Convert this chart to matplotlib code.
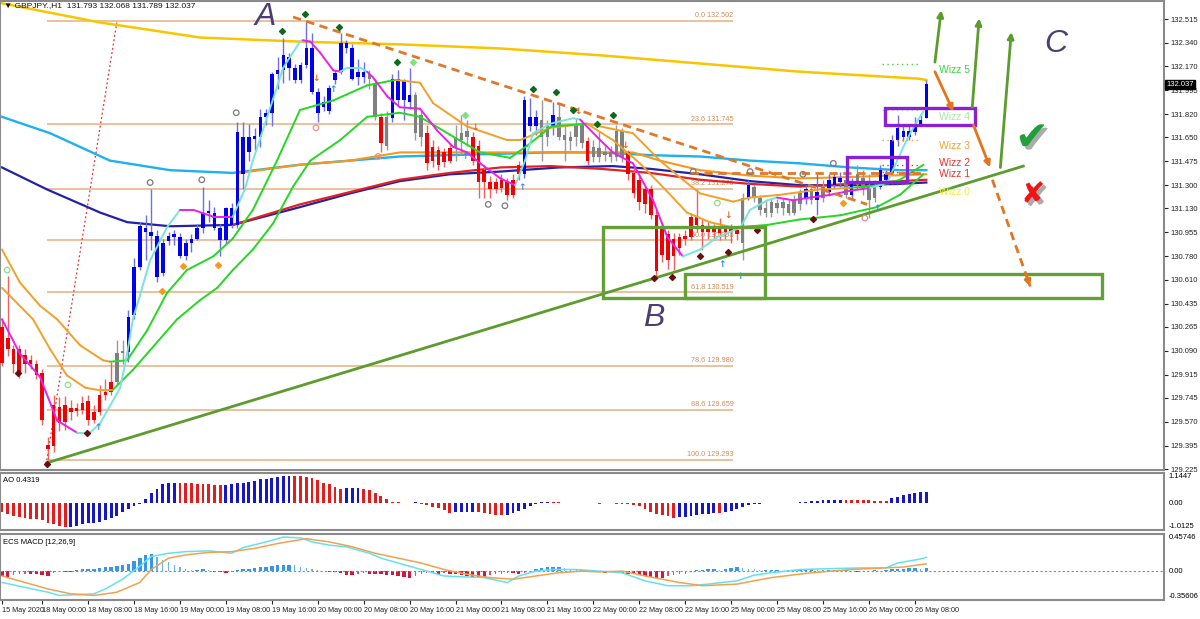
import numpy as np
import matplotlib.pyplot as plt
import matplotlib.transforms as mtransforms
import matplotlib.patheffects as pe
from matplotlib.collections import LineCollection
from matplotlib.patches import Rectangle

# GBPJPY H1 bars, 15 May 17:00 .. 26 May 09:00
opens = [130.26, 130.18, 130.10, 130.10, 130.06, 130.02, 129.99, 129.93, 129.40, 129.69,
         129.68, 129.69, 129.67, 129.67, 129.71, 129.72, 129.64, 129.77, 129.79, 129.86,
         130.07, 130.09, 130.08, 130.35, 130.70, 130.96, 130.93, 130.63, 130.66, 130.89,
         130.92, 130.78, 130.78, 130.88, 130.91, 130.99, 131.10, 130.99, 130.90, 130.90,
         131.01, 131.01, 131.38, 131.54, 131.64, 131.65, 131.80, 131.83, 132.11, 132.14,
         132.24, 132.16, 132.07, 132.18, 132.30, 131.98, 131.87, 131.84, 132.07, 132.13,
         132.34, 132.30, 132.09, 132.13, 132.11, 132.05, 131.80, 131.80, 131.79, 132.08,
         131.92, 131.91, 131.96, 131.81, 131.68, 131.58, 131.56, 131.54, 131.57, 131.65,
         131.68, 131.70, 131.65, 131.59, 131.41, 131.32, 131.32, 131.34, 131.32, 131.34,
         131.45, 131.38, 131.73, 131.73, 131.78, 131.73, 131.72, 131.80, 131.67, 131.65,
         131.74, 131.74, 131.62, 131.58, 131.57, 131.54, 131.54, 131.51, 131.70, 131.54,
         131.39, 131.34, 131.27, 131.27, 131.08, 130.99, 130.94, 130.91, 130.92, 130.93,
         130.92, 131.07, 131.01, 130.99, 130.96, 130.99, 130.96, 130.99, 130.97, 130.88,
         131.21, 131.29, 131.21, 131.13, 131.10, 131.17, 131.13, 131.16, 131.10, 131.16,
         131.21, 131.27, 131.19, 131.29, 131.25, 131.30, 131.32, 131.34, 131.23, 131.38,
         131.35, 131.30, 131.21, 131.29, 131.34, 131.39, 131.63, 131.65, 131.65, 131.69,
         131.75, 131.793]
highs = [130.33, 130.64, 130.13, 130.13, 130.10, 130.06, 130.02, 129.96, 129.46, 129.77,
         129.75, 129.76, 129.73, 129.71, 129.76, 129.77, 129.69, 129.84, 129.88, 130.01,
         130.17, 130.17, 130.39, 130.77, 131.03, 131.08, 131.27, 130.97, 130.91, 130.96,
         130.97, 130.95, 130.91, 130.94, 131.02, 131.29, 131.19, 131.14, 131.02, 131.14,
         131.17, 131.76, 131.76, 131.75, 131.72, 131.86, 131.86, 132.13, 132.24, 132.38,
         132.27, 132.19, 132.20, 132.50, 132.41, 132.01, 131.95, 132.03, 132.14, 132.41,
         132.36, 132.33, 132.22, 132.20, 132.14, 132.08, 131.83, 131.84, 132.11, 132.14,
         132.08, 132.16, 131.98, 131.85, 131.74, 131.63, 131.59, 131.57, 131.61, 131.74,
         131.81, 131.78, 131.69, 131.63, 131.45, 131.37, 131.35, 131.38, 131.35, 131.38,
         131.48, 131.95, 131.94, 131.85, 131.92, 131.78, 131.91, 131.90, 131.73, 131.70,
         131.79, 131.78, 131.65, 131.63, 131.70, 131.59, 131.59, 131.74, 131.72, 131.56,
         131.43, 131.38, 131.29, 131.30, 131.12, 131.03, 130.97, 130.95, 130.95, 130.97,
         131.10, 131.27, 131.05, 131.03, 131.02, 131.06, 131.01, 131.02, 131.00, 131.24,
         131.34, 131.30, 131.23, 131.19, 131.21, 131.20, 131.21, 131.19, 131.23, 131.27,
         131.30, 131.29, 131.38, 131.34, 131.38, 131.40, 131.40, 131.38, 131.35, 131.45,
         131.41, 131.38, 131.34, 131.45, 131.41, 131.67, 131.81, 131.74, 131.74, 131.80,
         131.82, 132.068]
lows = [129.98, 130.05, 129.93, 129.89, 129.93, 129.96, 129.88, 129.55, 129.293, 129.35,
        129.50, 129.51, 129.58, 129.61, 129.63, 129.55, 129.56, 129.62, 129.73, 129.77,
        129.84, 129.99, 130.01, 130.32, 130.68, 130.75, 130.83, 130.59, 130.64, 130.86,
        130.86, 130.77, 130.75, 130.81, 130.90, 130.95, 131.03, 130.97, 130.78, 130.88,
        130.99, 130.99, 131.27, 131.48, 131.56, 131.58, 131.74, 131.73, 132.00, 132.05,
        132.07, 132.05, 132.05, 132.16, 131.97, 131.76, 131.84, 131.82, 132.04, 132.11,
        132.27, 132.07, 132.03, 132.05, 132.00, 131.78, 131.54, 131.56, 131.76, 131.89,
        131.78, 131.86, 131.63, 131.59, 131.41, 131.43, 131.41, 131.43, 131.46, 131.48,
        131.52, 131.59, 131.45, 131.21, 131.21, 131.21, 131.24, 131.25, 131.19, 131.21,
        131.34, 131.35, 131.70, 131.67, 131.48, 131.59, 131.67, 131.63, 131.48, 131.56,
        131.59, 131.57, 131.45, 131.47, 131.47, 131.48, 131.47, 131.48, 131.47, 131.34,
        131.21, 131.12, 131.10, 131.05, 130.64, 130.74, 130.69, 130.68, 130.79, 130.86,
        130.90, 130.96, 130.83, 130.91, 130.90, 130.90, 130.91, 130.88, 130.90, 130.75,
        131.19, 131.18, 131.08, 131.07, 131.07, 131.10, 131.08, 131.08, 131.08, 131.12,
        131.16, 131.16, 131.08, 131.18, 131.22, 131.27, 131.29, 131.21, 131.19, 131.27,
        131.23, 131.06, 131.18, 131.27, 131.32, 131.38, 131.59, 131.62, 131.63, 131.67,
        131.73, 131.789]
closes = [130.00, 130.10, 129.99, 129.91, 129.99, 129.99, 129.91, 129.58, 129.37, 129.39,
          129.56, 129.57, 129.64, 129.65, 129.66, 129.58, 129.58, 129.64, 129.77, 129.79,
          129.86, 130.07, 130.34, 130.70, 131.00, 130.99, 130.96, 130.93, 130.88, 130.93,
          130.94, 130.92, 130.88, 130.91, 130.99, 131.10, 131.11, 131.10, 130.99, 131.13,
          131.13, 131.69, 131.65, 131.65, 131.66, 131.80, 131.83, 132.11, 132.14, 132.25,
          132.16, 132.07, 132.18, 132.30, 131.98, 131.83, 131.91, 132.01, 132.12, 132.34,
          132.30, 132.08, 132.13, 132.09, 132.08, 131.80, 131.61, 131.59, 132.08, 131.92,
          132.07, 131.96, 131.68, 131.65, 131.46, 131.48, 131.45, 131.47, 131.48, 131.57,
          131.63, 131.65, 131.48, 131.32, 131.32, 131.27, 131.27, 131.28, 131.23, 131.23,
          131.38, 131.92, 131.80, 131.80, 131.65, 131.65, 131.81, 131.65, 131.63, 131.62,
          131.65, 131.61, 131.48, 131.51, 131.51, 131.52, 131.51, 131.70, 131.51, 131.38,
          131.24, 131.18, 131.16, 131.08, 130.67, 130.79, 130.75, 130.78, 130.84, 130.91,
          131.07, 131.01, 130.96, 130.96, 130.99, 130.95, 130.99, 130.96, 130.94, 131.21,
          131.30, 131.21, 131.12, 131.10, 131.18, 131.13, 131.18, 131.10, 131.19, 131.24,
          131.27, 131.19, 131.25, 131.21, 131.34, 131.36, 131.35, 131.23, 131.32, 131.30,
          131.28, 131.19, 131.29, 131.41, 131.38, 131.63, 131.72, 131.70, 131.70, 131.74,
          131.78, 132.037]
# b = blue, r = red, g = grey candle
candle_colors = ("r" * 20 + "gg" + "b" * 42 + "gg" + "r" + "g" + "bbbb" + "gg" + "rrrrr"
                 + "ggg" + "r" * 9 + "bbb" + "gg" + "b" + "ggggg" + "r" + "gggggg" + "r" * 20
                 + "g" + "b" + "g" * 9 + "b" + "g" + "b" + "g" + "bbb" + "g" + "b" + "gggg" + "b" * 9)

tick_bars = [0, 7, 15, 23, 31, 39, 47, 55, 63, 71, 79, 87, 95, 103, 111, 119, 127, 135, 143, 151, 159]
tick_labels = ["15 May 2020", "18 May 00:00", "18 May 08:00", "18 May 16:00", "19 May 00:00",
               "19 May 08:00", "19 May 16:00", "20 May 00:00", "20 May 08:00", "20 May 16:00",
               "21 May 00:00", "21 May 08:00", "21 May 16:00", "22 May 00:00", "22 May 08:00",
               "22 May 16:00", "25 May 00:00", "25 May 08:00", "25 May 16:00", "26 May 00:00",
               "26 May 08:00"]
price_ticks = [132.515, 132.340, 132.170, 131.995, 131.820, 131.650, 131.475, 131.300, 131.130,
               130.955, 130.780, 130.610, 130.435, 130.265, 130.090, 129.915, 129.745, 129.570,
               129.395, 129.225]

# moving averages (bar, price)
yellow_bars = [0, 17.1, 34.5, 51.9, 69.3, 86.8, 104.2, 121.6, 139, 159.4, 161]
yellow_vals = [132.63, 132.49, 132.38, 132.35, 132.33, 132.30, 132.25, 132.19, 132.13, 132.08, 132.07]
sky_bars = [0, 8.4, 18.8, 29.3, 40.2, 51.9, 60.6, 69.3, 78, 86.8, 95.5, 104.2, 112.9, 121.6,
            130.3, 139, 147.7, 156.4, 161]
sky_vals = [131.80, 131.68, 131.48, 131.41, 131.39, 131.45, 131.48, 131.51, 131.52, 131.53,
            131.54, 131.54, 131.52, 131.51, 131.48, 131.46, 131.43, 131.41, 131.41]
navy_bars = [0, 7.8, 17.1, 21.8, 29.3, 40.2, 51.9, 60.6, 69.3, 78, 86.8, 97, 106.4, 112.9,
             121.6, 130.3, 139, 147.7, 156.4, 161]
navy_vals = [131.43, 131.27, 131.10, 131.03, 131.00, 131.01, 131.14, 131.24, 131.33, 131.38,
             131.40, 131.43, 131.44, 131.42, 131.38, 131.33, 131.30, 131.30, 131.31, 131.32]
red_ma_bars = [40.2, 51.9, 60.6, 69.3, 78, 86.8, 95.5, 104.2, 112.9, 121.6, 130.3, 139, 147.7, 161]
red_ma_vals = [131.01, 131.16, 131.25, 131.34, 131.39, 131.43, 131.44, 131.42, 131.39, 131.34,
               131.31, 131.29, 131.31, 131.34]
slow_orange_bars = [41.5, 51.9, 60.6, 69.3, 86.8, 104.2, 109.9, 114.6, 121.6, 130.3, 139, 147.7, 161]
slow_orange_vals = [131.39, 131.45, 131.48, 131.54, 131.54, 131.54, 131.54, 131.48, 131.41,
                    131.37, 131.35, 131.36, 131.38]

# fast MA, coloured m (falling) / c (rising) per segment
fast_bars = [0, 3.1, 6.6, 9.6, 13.1, 15.3, 17.1, 20.6, 21.8, 22.8, 25.8, 28.7, 31, 33.3, 36.8,
             40.2, 42.3, 43.7, 46.2, 49, 51.9, 52.4, 53.7, 55.4, 57.7, 58.9, 60.1, 62.4, 63.6,
             64.6, 67.1, 69.3, 72.8, 75.8, 78.6, 81, 83.3, 86.8, 89.4, 91.1, 92.5, 95.5, 99.5,
             100.7, 104.2, 106.4, 109.9, 113.4, 115.9, 118.6, 121.6, 124.6, 128.6, 130.3, 133.3,
             135, 137.8, 140.8, 144.3, 147.7, 151.2, 154.2, 157, 158.2, 159.6, 160.5]
fast_vals = [130.32, 130.07, 129.90, 129.58, 129.49, 129.49, 129.56, 129.82, 130.07, 130.32,
             130.75, 130.99, 131.12, 131.12, 131.07, 131.07, 131.27, 131.48, 131.80, 132.16,
             132.35, 132.36, 132.35, 132.27, 132.14, 132.13, 132.16, 132.16, 132.13, 132.09,
             131.95, 131.87, 131.86, 131.70, 131.58, 131.54, 131.46, 131.35, 131.30, 131.48,
             131.68, 131.75, 131.79, 131.78, 131.63, 131.54, 131.46, 131.19, 130.92, 130.78,
             130.83, 130.92, 130.99, 131.12, 131.19, 131.21, 131.19, 131.21, 131.23, 131.26,
             131.28, 131.32, 131.58, 131.68, 131.78, 131.84]
fast_seg_colors = ("mmmm" + "cccccccc" + "mmm" + "cccccc" + "mmmm" + "ccc" + "mmmmmmmmmm"
                   + "ccccc" + "mmmmmm" + "cccccc" + "mmmmm" + "ccccc")

# upper / lower wizz band, o = orange, g = green per segment
upper_bars = [0, 3.1, 6.6, 9.6, 13.6, 17.6, 18.8, 21.8, 25.3, 28.7, 32.2, 36.8, 40.2, 43.7,
              47.9, 51.9, 57.7, 63.6, 68.5, 72.8, 75.1, 81, 88, 90.2, 95.5, 101.9, 109.9, 114.6,
              118.6, 121.6, 127.4, 130.3, 135.5, 142.5, 147.7, 152.9, 156.4, 160.5]
upper_vals = [130.83, 130.59, 130.42, 130.32, 130.13, 130.02, 130.01, 130.02, 130.24, 130.51,
              130.68, 130.78, 130.91, 131.12, 131.48, 131.85, 131.92, 132.03, 132.07, 132.05,
              131.90, 131.73, 131.63, 131.63, 131.72, 131.75, 131.68, 131.48, 131.34, 131.24,
              131.18, 131.21, 131.23, 131.27, 131.28, 131.30, 131.34, 131.45]
upper_seg_colors = "o" * 6 + "g" * 12 + "o" * 16 + "g" * 3
lower_bars = [0, 5.4, 8.4, 11.3, 14.5, 17.1, 19.2, 22.8, 25.3, 30.5, 34.5, 37.5, 40.2, 43.7,
              47.2, 50.7, 53.7, 58.9, 63.6, 69.3, 72.8, 78, 83.3, 88.5, 91.5, 95.7, 101.9,
              106.4, 111.1, 115.5, 119.3, 123.3, 127.4, 133.3, 139, 146, 152.4, 156.4, 160.5]
lower_vals = [130.55, 130.32, 130.10, 129.91, 129.82, 129.80, 129.80, 129.95, 130.07, 130.32,
              130.46, 130.55, 130.68, 130.83, 131.02, 131.29, 131.48, 131.63, 131.80, 131.83,
              131.80, 131.67, 131.54, 131.50, 131.59, 131.73, 131.75, 131.63, 131.46, 131.27,
              131.10, 131.03, 130.99, 131.01, 131.05, 131.08, 131.14, 131.23, 131.38]
lower_seg_colors = "o" * 6 + "g" * 20 + "o" * 6 + "g" * 6

# fibonacci retracement
fib_bars = [7.8, 127.4]
fib_labels = ["0.0", "23.6", "38.2", "50.0", "61.8", "78.6", "88.6", "100.0"]
fib_prices = [132.502, 131.745, 131.276, 130.898, 130.519, 129.980, 129.659, 129.293]

# signal markers
dk_green_bars = [48.8, 52.8, 58.7, 68.8, 92.5, 96.5, 99.5, 103.7, 106.4]
dk_green_vals = [132.43, 132.55, 132.46, 132.20, 132.00, 131.98, 131.85, 131.75, 131.81]
lt_green_bars = [71.6, 80.7]
lt_green_vals = [132.20, 131.81]
dk_red_bars = [2.8, 7.8, 14.8, 113.6, 116.7, 121.6, 126.5, 131.5, 141.3]
dk_red_vals = [129.93, 129.26, 129.49, 130.62, 130.63, 130.78, 130.81, 130.97, 131.05]
orange_dot_bars = [27.9, 31.5, 37.6, 146.5]
orange_dot_vals = [130.53, 130.71, 130.72, 131.17]
down_arrow_bars = [54.7, 82.4, 100.3, 108.5, 126.5]
down_arrow_vals = [132.08, 131.72, 131.84, 131.59, 131.08]
up_arrow_bars = [16.7, 57.7, 80.7, 90.6, 125.4, 128.6, 152.4]
up_arrow_vals = [129.53, 132.00, 131.51, 131.28, 130.72, 130.63, 131.13]
grey_ring_bars = [25.8, 34.8, 40.8, 84.7, 120.4, 139.5, 144.8, 87.6, 130.3]
grey_ring_vals = [131.32, 131.34, 131.83, 131.16, 131.40, 131.38, 131.46, 131.15, 131.40]
pink_ring_bars = [54.7, 150.3, 65.5]
pink_ring_vals = [131.72, 131.06, 131.51]
green_ring_bars = [0.9, 11.5, 124.6]
green_ring_vals = [130.68, 129.84, 131.17]

# wizz levels at the right
wizz_names = ["Wizz 5", "Wizz 4", "Wizz 3", "Wizz 2", "Wizz 1", "Wizz 0"]
wizz_label_vals = [132.14, 131.80, 131.59, 131.46, 131.38, 131.25]
wizz_line_vals = [132.19, 131.85, 131.63, 131.45, 131.40, 131.30]
wizz_colors = ["#3cd43c", "#a8e8a0", "#f2a233", "#e53333", "#e53333", "#f0f028"]

# drawn objects (bar, price)
up_trend = [(7.8, 129.27), (177.9, 131.44)]
down_trend = [(50.7, 132.53), (150.7, 131.16)]
flat_dash = [(119.9, 131.39), (160.5, 131.39)]
red_dotted = [(7.8, 129.29), (20.0, 132.49)]
green_boxes = [(104.7, 130.476, 132.9, 130.995), (119.0, 130.476, 191.6, 130.651)]
purple_boxes = [(153.8, 131.740, 169.5, 131.864), (147.2, 131.324, 157.7, 131.506)]
orange_arrows = [((162.5, 132.13), (165.7, 131.84)), ((169.2, 131.74), (172.1, 131.43))]
orange_dash_arrow = ((172.5, 131.34), (179.1, 130.56))
green_arrows = [((162.5, 132.20), (163.6, 132.58)), ((169.0, 131.87), (170.2, 132.52)),
                ((173.9, 131.43), (175.8, 132.42))]
wave_labels = ["A", "B", "C"]
wave_bars = [45.8, 113.6, 183.6]
wave_vals = [132.53, 130.33, 132.33]

# Awesome oscillator
ao_values = [-0.35, -0.41, -0.48, -0.51, -0.54, -0.58, -0.60, -0.63, -0.73, -0.79,
             -0.85, -0.91, -0.90, -0.85, -0.79, -0.76, -0.73, -0.70, -0.63, -0.54,
             -0.48, -0.35, -0.23, -0.10, -0.01, 0.15, 0.38, 0.55, 0.71, 0.75,
             0.78, 0.77, 0.76, 0.75, 0.74, 0.72, 0.71, 0.70, 0.68, 0.69,
             0.71, 0.75, 0.78, 0.80, 0.84, 0.90, 0.93, 0.96, 1.00, 1.03,
             1.05, 1.03, 1.02, 1.00, 0.96, 0.88, 0.78, 0.71, 0.63, 0.55,
             0.57, 0.58, 0.59, 0.55, 0.50, 0.40, 0.28, 0.15, 0.06, 0.03,
             0.01, 0.02, 0.03, -0.04, -0.08, -0.13, -0.18, -0.26, -0.36, -0.35,
             -0.34, -0.33, -0.32, -0.34, -0.37, -0.40, -0.43, -0.45, -0.44, -0.38,
             -0.29, -0.20, -0.10, -0.04, 0.03, 0.06, 0.05, 0.03, 0.01, 0.02,
             0.01, 0.015, 0.0, 0.01, -0.01, 0.005, -0.005, -0.01, -0.02, -0.03,
             -0.05, -0.10, -0.20, -0.33, -0.39, -0.44, -0.50, -0.54, -0.53, -0.51,
             -0.48, -0.45, -0.41, -0.39, -0.36, -0.37, -0.33, -0.29, -0.23, -0.16,
             -0.08, -0.04, -0.01, 0.01, 0.015, 0.01, 0.02, 0.025, 0.02, 0.03,
             0.05, 0.08, 0.10, 0.11, 0.13, 0.135, 0.14, 0.13, 0.12, 0.115,
             0.11, 0.105, 0.10, 0.095, 0.09, 0.18, 0.24, 0.30, 0.36, 0.40,
             0.41, 0.4319]

# ECS MACD
macd_hist = [-0.06, -0.07, -0.05, -0.04, -0.03, -0.03, -0.04, -0.05, -0.06, -0.02,
             -0.01, -0.01, -0.01, 0.01, 0.02, 0.02, 0.03, 0.04, 0.05, 0.05,
             0.06, 0.07, 0.09, 0.12, 0.16, 0.20, 0.21, 0.18, 0.14, 0.11,
             0.08, 0.05, 0.03, 0.01, 0.01, 0.02, 0.01, -0.01, -0.01, -0.02,
             -0.01, 0.01, 0.02, 0.03, 0.04, 0.05, 0.05, 0.06, 0.07, 0.07,
             0.08, 0.07, 0.05, 0.04, 0.02, 0.01, 0.0, -0.01, -0.01, -0.02,
             -0.05, -0.05, -0.03, -0.02, -0.03, -0.04, -0.04, -0.05, -0.05, -0.06,
             -0.07, -0.08, -0.06, -0.03, -0.02, -0.02, -0.03, -0.02, -0.03, -0.04,
             -0.05, -0.06, -0.07, -0.07, -0.08, -0.05, -0.04, -0.03, -0.02, -0.02,
             -0.03, -0.02, 0.0, 0.02, 0.04, 0.05, 0.05, 0.05, 0.04, 0.02,
             0.01, 0.01, 0.0, -0.01, -0.01, -0.02, -0.01, -0.01, -0.02, -0.03,
             -0.04, -0.05, -0.06, -0.07, -0.08, -0.08, -0.06, -0.05, -0.04, -0.03,
             -0.01, 0.01, 0.01, 0.02, 0.02, 0.01, 0.02, 0.04, 0.05, 0.04,
             0.03, 0.02, 0.01, 0.01, 0.01, 0.01, 0.0, 0.01, 0.01, 0.02,
             0.02, 0.03, 0.02, 0.01, 0.01, 0.01, 0.0, 0.01, 0.0, -0.01,
             0.0, 0.0, 0.01, 0.0, 0.01, 0.02, 0.03, 0.03, 0.04, 0.04,
             0.03, 0.04]
macd_bars = [0, 4, 8, 10, 13, 16, 18, 21, 24, 26, 29, 32, 36, 40, 42, 46, 49, 52, 54, 57, 60,
             64, 66, 69, 73, 77, 80, 84, 88, 90, 93, 96, 100, 104, 108, 112, 116, 120, 123,
             128, 131, 134, 139, 144, 150, 154, 156, 160, 161]
macd_vals = [-0.14, -0.20, -0.26, -0.30, -0.29, -0.28, -0.22, -0.10, 0.06, 0.18, 0.22, 0.24,
             0.25, 0.22, 0.29, 0.36, 0.42, 0.41, 0.36, 0.32, 0.30, 0.22, 0.16, 0.10, 0.02,
             -0.06, -0.07, -0.08, -0.14, -0.06, 0.0, 0.02, 0.02, 0.0, -0.02, -0.12, -0.18,
             -0.18, -0.16, -0.12, -0.05, -0.02, 0.02, 0.03, 0.04, 0.04, 0.10, 0.15, 0.17]
signal_bars = [0, 4, 8, 12, 16, 20, 24, 26, 29, 32, 36, 40, 44, 48, 53, 57, 61, 65, 69, 73,
               77, 81, 85, 89, 93, 97, 101, 104, 108, 112, 118, 122, 128, 134, 141, 148, 154,
               157, 161]
signal_vals = [-0.06, -0.14, -0.22, -0.28, -0.30, -0.26, -0.14, 0.02, 0.16, 0.20, 0.23, 0.24,
               0.28, 0.34, 0.40, 0.36, 0.30, 0.22, 0.16, 0.10, 0.02, -0.04, -0.08, -0.10,
               -0.06, -0.02, 0.0, -0.01, 0.0, -0.06, -0.14, -0.18, -0.16, -0.08, -0.02, 0.02,
               0.04, 0.05, 0.09]

plt.rcParams['font.family'] = ['Liberation Sans', 'DejaVu Sans']
SMALL = 5.5

W, H = 1200, 619
fig = plt.figure(figsize=(12, 6.19), dpi=100)


def add_panel(top, bottom):
    # pixel rows of the MT4 sub-window -> figure fractions
    return fig.add_axes([0.0, 1 - bottom / H, 1164 / W, (bottom - top) / H])


ax = add_panel(1, 470)
ax_ao = add_panel(473, 530)
ax_m = add_panel(534, 600)

for a in (ax, ax_ao, ax_m):
    a.set_xlim(-0.35, 202.4)
    a.set_xticks([])
    for s in a.spines.values():
        s.set_color('#8a8a8a')
        s.set_linewidth(1.5)
    a.yaxis.tick_right()
    a.tick_params(axis='y', length=3, width=0.8, pad=1.5, labelsize=SMALL, colors='#222222')

# ---- main price window ----
ax.set_ylim(129.218, 132.647)
ax.set_yticks(price_ticks)
ax.set_yticklabels([f"{p:.3f}" for p in price_ticks])

for lab, p in zip(fib_labels, fib_prices):
    ax.hlines(p, fib_bars[0], fib_bars[1], colors='#e8b68e', lw=1.2, zorder=1)
    ax.text(fib_bars[1], p + 0.01, f"{lab} {p:.3f}", ha='right', va='bottom',
            fontsize=5.2, color='#d38c55', zorder=1)

ax.plot(*zip(*red_dotted), color='#e83030', lw=0.9, ls=(0, (1.5, 2)), zorder=2)

ax.plot(yellow_bars, yellow_vals, color='#f7c600', lw=1.8, zorder=2)
ax.plot(sky_bars, sky_vals, color='#1fb0ef', lw=1.7, zorder=2)
ax.plot(navy_bars, navy_vals, color='#2222a8', lw=1.6, zorder=2)
ax.plot(red_ma_bars, red_ma_vals, color='#e02222', lw=1.6, zorder=2)
ax.plot(slow_orange_bars, slow_orange_vals, color='#f39a1e', lw=1.5, zorder=2)


def colored_line(axis, xs, ys, codes, palette, lw):
    pts = np.column_stack([xs, ys])
    segs = np.stack([pts[:-1], pts[1:]], axis=1)
    axis.add_collection(LineCollection(segs, colors=[palette[c] for c in codes],
                                       linewidths=lw, zorder=4, capstyle='round'))


band_palette = {'o': '#f2a028', 'g': '#24d824'}
colored_line(ax, upper_bars, upper_vals, upper_seg_colors, band_palette, 1.4)
colored_line(ax, lower_bars, lower_vals, lower_seg_colors, band_palette, 1.4)
colored_line(ax, fast_bars, fast_vals, fast_seg_colors, {'m': '#ea1fea', 'c': '#78e4dc'}, 1.4)

# candles
bars = np.arange(len(closes))
o = np.array(opens)
c = np.array(closes)
body_lo = np.minimum(o, c)
body_hi = np.maximum(o, c)
body_pal = {'b': '#0000f0', 'r': '#f00000', 'g': '#808080'}
wick_pal = {'b': '#6e6ee6', 'r': '#f06060', 'g': '#9a9a9a'}
ax.vlines(bars, lows, highs, colors=[wick_pal[k] for k in candle_colors], lw=1.0, zorder=3)
ax.bar(bars, np.maximum(body_hi - body_lo, 0.012), bottom=body_lo, width=0.62,
       color=[body_pal[k] for k in candle_colors], lw=0, zorder=3)

# markers
ax.scatter(dk_green_bars, dk_green_vals, marker='D', s=9, color='#0b6b1a', zorder=5)
ax.scatter(lt_green_bars, lt_green_vals, marker='D', s=9, color='#7fe07f', zorder=5)
ax.scatter(dk_red_bars, dk_red_vals, marker='D', s=9, color='#6a0d0d', zorder=5)
ax.scatter(orange_dot_bars, orange_dot_vals, marker='D', s=9, color='#f59a20', zorder=5)
ax.scatter(grey_ring_bars, grey_ring_vals, marker='o', s=16, facecolors='none',
           edgecolors='#7a7a7a', lw=0.9, zorder=5)
ax.scatter(pink_ring_bars, pink_ring_vals, marker='o', s=16, facecolors='none',
           edgecolors='#f08a8a', lw=0.9, zorder=5)
ax.scatter(green_ring_bars, green_ring_vals, marker='o', s=16, facecolors='none',
           edgecolors='#88e088', lw=0.9, zorder=5)
for b, v in zip(down_arrow_bars, down_arrow_vals):
    ax.text(b, v, "\u2193", color='#f0641e', fontsize=6.5, fontweight='bold',
            family='DejaVu Sans', ha='center', va='center', zorder=5)
for b, v in zip(up_arrow_bars, up_arrow_vals):
    ax.text(b, v, "\u2191", color='#2f8ff0', fontsize=6.5, fontweight='bold',
            family='DejaVu Sans', ha='center', va='center', zorder=5)

# wizz levels and labels
for v, col in zip(wizz_line_vals, wizz_colors):
    ax.hlines(v, 153.3, 159.6, colors=col, lw=1.0, ls=(0, (1, 2.5)), zorder=4)
for name, v, col in zip(wizz_names, wizz_label_vals, wizz_colors):
    ax.text(165.9, v, name, color=col, fontsize=7.5, ha='center', va='center', zorder=6)

# trend lines
ax.plot(*zip(*up_trend), color='#5b9c2c', lw=2.0, zorder=4)
ax.plot(*zip(*down_trend), color='#e0782a', lw=2.0, ls=(0, (3, 2)), zorder=4)
ax.plot(*zip(*flat_dash), color='#e0782a', lw=2.0, ls=(0, (3, 2)), zorder=4)

for x0, y0, x1, y1 in green_boxes:
    ax.add_patch(Rectangle((x0, y0), x1 - x0, y1 - y0, fill=False, ec='#63a035', lw=2.4, zorder=6))
for x0, y0, x1, y1 in purple_boxes:
    ax.add_patch(Rectangle((x0, y0), x1 - x0, y1 - y0, fill=False, ec='#8a1fd8', lw=2.4, zorder=6))

for start, end in orange_arrows:
    ax.annotate("", xy=end, xytext=start, zorder=7,
                arrowprops=dict(arrowstyle='-|>', color='#e5741e', lw=2.0,
                                mutation_scale=9, shrinkA=0, shrinkB=0))
for start, end in green_arrows:
    ax.annotate("", xy=end, xytext=start, zorder=7,
                arrowprops=dict(arrowstyle='-|>', color='#5b9c2c', lw=2.0,
                                mutation_scale=9, shrinkA=0, shrinkB=0))
(sx, sy), (ex, ey) = orange_dash_arrow
ax.plot([sx, ex], [sy, ey], color='#e5741e', lw=2.0, ls=(0, (3, 2)), zorder=7)
ax.annotate("", xy=(ex, ey), xytext=(ex - 0.1 * (ex - sx), ey - 0.1 * (ey - sy)), zorder=7,
            arrowprops=dict(arrowstyle='-|>', color='#e5741e', lw=2.0,
                            mutation_scale=9, shrinkA=0, shrinkB=0))

for lab, b, v in zip(wave_labels, wave_bars, wave_vals):
    ax.text(b, v, lab, fontsize=23, style='italic', color='#4c3e74',
            ha='center', va='center', zorder=7)

shadow = [pe.withSimplePatchShadow(offset=(2.5, -2.5), shadow_rgbFace='#666666', alpha=0.55)]
ax.text(179.4, 131.64, "\u2714", fontsize=29, color='#1fa03a', ha='center', va='center',
        family='DejaVu Sans', path_effects=shadow, zorder=8)
ax.text(179.6, 131.23, "\u2718", fontsize=21, color='#ee1515', ha='center', va='center',
        family='DejaVu Sans', path_effects=shadow, zorder=8)

# header and current price tag
fig.text(4 / W, 1 - 6 / H, "\u25bc GBPJPY.,H1  131.793 132.068 131.789 132.037",
         fontsize=6.0, va='center', ha='left', color='#111111',
         family=['Liberation Sans', 'DejaVu Sans'])
tr = mtransforms.blended_transform_factory(ax.transAxes, ax.transData)
ax.text(1.002, closes[-1], f"{closes[-1]:.3f}", transform=tr, fontsize=SMALL, color='white',
        ha='left', va='center', clip_on=False, zorder=10,
        bbox=dict(boxstyle='square,pad=0.15', fc='black', ec='black'))

# ---- AO window ----
ao = np.array(ao_values)
ao_cols = ['#e51c1c'] + ['#1616cc' if ao[i] > ao[i - 1] else '#e51c1c' for i in range(1, len(ao))]
ax_ao.bar(bars, ao, width=0.5, color=ao_cols, lw=0)
ax_ao.set_ylim(-1.0125, 1.1447)
ax_ao.set_yticks([])
tr_ao = mtransforms.blended_transform_factory(ax_ao.transAxes, ax_ao.transData)
ax_ao.text(0.003, 0.93, f"AO {ao_values[-1]:.4f}", transform=ax_ao.transAxes, fontsize=SMALL,
           va='top', ha='left')
ax_ao.text(1.004, 1.1447, "1.1447", transform=tr_ao, fontsize=SMALL, va='top', ha='left',
           clip_on=False)
ax_ao.text(1.004, 0.0, "0.00", transform=tr_ao, fontsize=SMALL, va='center', ha='left',
           clip_on=False)
ax_ao.text(1.004, -1.0125, "-1.0125", transform=tr_ao, fontsize=SMALL, va='bottom', ha='left',
           clip_on=False)

# ---- MACD window ----
hist = np.array(macd_hist)
growing = np.r_[True, np.abs(hist[1:]) >= np.abs(hist[:-1])]
hist_cols = np.array(['#3896ea' if h >= 0 else '#d2163e' for h in hist])
ax_m.bar(bars[growing], hist[growing], width=0.6, color=hist_cols[growing], lw=0)
ax_m.bar(bars[~growing], hist[~growing], width=0.2, color=hist_cols[~growing], lw=0, alpha=0.75)
ax_m.axhline(0, color='#8a8a8a', lw=0.8, ls=(0, (2, 2)))
ax_m.plot(macd_bars, macd_vals, color='#62e2f0', lw=1.1)
ax_m.plot(signal_bars, signal_vals, color='#f2a24e', lw=1.1)
ax_m.set_ylim(-0.35606, 0.45746)
ax_m.set_yticks([])
tr_m = mtransforms.blended_transform_factory(ax_m.transAxes, ax_m.transData)
ax_m.text(0.003, 0.93, "ECS MACD [12,26,9]", transform=ax_m.transAxes, fontsize=SMALL,
          va='top', ha='left')
ax_m.text(1.004, 0.45746, "0.45746", transform=tr_m, fontsize=SMALL, va='top', ha='left',
          clip_on=False)
ax_m.text(1.004, 0.0, "0.00", transform=tr_m, fontsize=SMALL, va='center', ha='left',
          clip_on=False)
ax_m.text(1.004, -0.35606, "-0.35606", transform=tr_m, fontsize=SMALL, va='bottom', ha='left',
          clip_on=False)

ax_m.set_xticks(tick_bars)
ax_m.set_xticklabels(tick_labels, fontsize=5.2, ha='left')
ax_m.tick_params(axis='x', length=3, width=0.8, pad=2, colors='#222222')

fig.savefig("out.png", dpi=100, facecolor='white')
